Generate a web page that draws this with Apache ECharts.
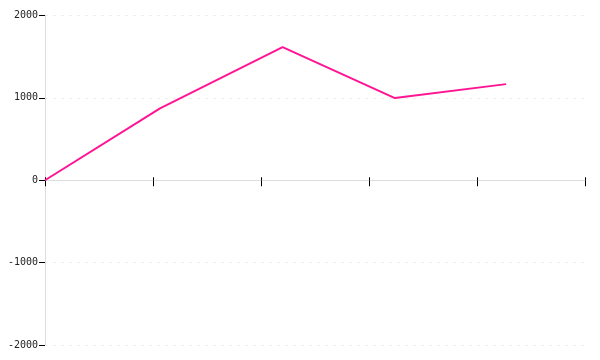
<!DOCTYPE html>
<html>
<head>
<meta charset="utf-8">
<script src="https://cdn.jsdelivr.net/npm/echarts@6/dist/echarts.min.js"></script>
<style>html,body{margin:0;padding:0;background:#fff}#c{width:600px;height:360px}</style>
</head>
<body>
<div id="c"></div>
<script>
const xValues = [0, 1.065, 2.2, 3.24, 4.27];
const yValues = [0, 873, 1616, 998, 1167];
const yTicks = [-2000, -1000, 0, 1000, 2000];

const chart = echarts.init(document.getElementById('c'), null, {renderer: 'canvas'});
const data = xValues.map((x, i) => [x, yValues[i]]);
const yMin = yTicks[0], yMax = yTicks[yTicks.length - 1];
chart.setOption({
  animation: false,
  grid: {left: 45, right: 15, top: 15.5, bottom: 15},
  xAxis: [{
    type: 'value', min: 0, max: 5, interval: 1,
    axisLine: {show: true, onZero: true, onZeroAxisIndex: 0, lineStyle: {color: '#ddd', width: 1}},
    axisTick: {show: true, length: 6, lineStyle: {color: '#000'}},
    axisLabel: {show: false},
    splitLine: {show: false}
  }, {
    type: 'value', min: 0, max: 5, interval: 1, position: 'bottom',
    axisLine: {show: true, onZero: true, onZeroAxisIndex: 1, lineStyle: {color: 'rgba(0,0,0,0)', width: 0}},
    axisTick: {show: true, inside: true, length: 3, lineStyle: {color: '#000'}},
    axisLabel: {show: false},
    splitLine: {show: false}
  }],
  yAxis: [{
    type: 'value', min: yMin, max: yMax, interval: 1000,
    axisLine: {show: true, lineStyle: {color: '#ddd'}},
    axisTick: {show: true, length: 6, lineStyle: {color: '#000'}},
    axisLabel: {color: '#222', fontSize: 10, fontFamily: 'DejaVu Sans Mono', margin: 7,
      formatter: v => String(v)},
    splitLine: {show: true, lineStyle: {color: '#eee', type: [3, 5]}}
  }, {
    type: 'value', min: yMin, max: yMax, interval: 1000, position: 'left',
    axisLine: {show: false}, axisTick: {show: false}, axisLabel: {show: false},
    splitLine: {show: false}
  }],
  series: [{
    type: 'line', data: data, showSymbol: false,
    lineStyle: {color: '#ff1493', width: 2}
  }, {
    type: 'line', xAxisIndex: 1, yAxisIndex: 1, data: [], showSymbol: false
  }]
});
</script>
</body>
</html>
